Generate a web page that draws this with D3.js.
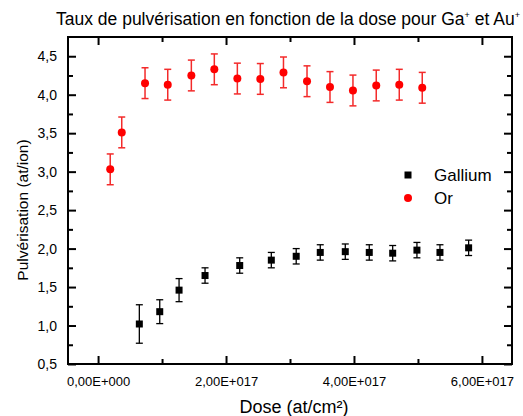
<!DOCTYPE html>
<html>
<head>
<meta charset="utf-8">
<script src="https://cdn.jsdelivr.net/npm/d3@7"></script>
<style>
  html, body { margin: 0; padding: 0; background: #fff; }
  svg { display: block; font-family: "Liberation Sans", Arial, sans-serif; }
</style>
</head>
<body>
<svg id="chart" width="523" height="416"></svg>
<script>
// Gallium (Ga+) sputtering yield vs dose
const galliumDose  = [0.645e17, 0.964e17, 1.266e17, 1.672e17, 2.214e17, 2.708e17, 3.097e17,
                      3.473e17, 3.864e17, 4.239e17, 4.605e17, 4.984e17, 5.344e17, 5.792e17];
const galliumYield = [1.02, 1.18, 1.46, 1.65, 1.78, 1.85, 1.90, 1.95, 1.96, 1.95, 1.94, 1.98, 1.95, 2.01];
const galliumErr   = [0.25, 0.155, 0.15, 0.10, 0.10, 0.10, 0.10, 0.10, 0.10, 0.10, 0.10, 0.10, 0.10, 0.10];

// Gold (Au+) sputtering yield vs dose
const orDose  = [0.19e17, 0.37e17, 0.734e17, 1.089e17, 1.458e17, 1.817e17, 2.177e17, 2.536e17,
                 2.898e17, 3.266e17, 3.625e17, 3.984e17, 4.348e17, 4.708e17, 5.067e17];
const orYield = [3.03, 3.51, 4.15, 4.13, 4.25, 4.33, 4.21, 4.205, 4.29, 4.175, 4.10, 4.055, 4.12, 4.13, 4.09];
const orErr   = [0.20, 0.20, 0.20, 0.20, 0.20, 0.20, 0.20, 0.20, 0.20, 0.20, 0.20, 0.20, 0.20, 0.20, 0.20];

// Axis ticks and labels
const xMajorTicks  = [0, 2e17, 4e17, 6e17];
const xMajorLabels = ["0,00E+000", "2,00E+017", "4,00E+017", "6,00E+017"];
const xMinorTicks  = [1e17, 3e17, 5e17];
const yMajorTicks  = [0.5, 1.0, 1.5, 2.0, 2.5, 3.0, 3.5, 4.0, 4.5];
const yMajorLabels = ["0,5", "1,0", "1,5", "2,0", "2,5", "3,0", "3,5", "4,0", "4,5"];
const yMinorTicks  = [0.75, 1.25, 1.75, 2.25, 2.75, 3.25, 3.75, 4.25];

const seriesNames = ["Gallium", "Or"];
const titleText = "Taux de pulvérisation en fonction de la dose pour Ga";

const W = 523, H = 416;
const margin = { top: 37, right: 11, bottom: 52, left: 68 };
const iw = W - margin.left - margin.right;
const ih = H - margin.top - margin.bottom;

const svg = d3.select("#chart");
const g = svg.append("g").attr("transform", `translate(${margin.left},${margin.top})`);

const x = d3.scaleLinear().domain([-0.47e17, 6.47e17]).range([0, iw]);
const y = d3.scaleLinear().domain([0.5, 4.75]).range([ih, 0]);

const MAJ = 8, MIN = 5;

// Inward ticks on all four sides
function drawAxis(axisGen, transform) {
  const a = g.append("g").attr("transform", transform).call(axisGen);
  a.select(".domain").remove();
  a.selectAll("line").attr("stroke", "#000").attr("stroke-width", 2);
  return a;
}
// bottom
const xb = drawAxis(d3.axisBottom(x).tickValues(xMajorTicks).tickSize(-MAJ)
  .tickFormat((d, i) => xMajorLabels[i]).tickPadding(13), `translate(0,${ih})`);
xb.selectAll("text").attr("font-size", 13).attr("fill", "#000")
  .attr("font-family", "Liberation Sans, Arial, sans-serif");
drawAxis(d3.axisBottom(x).tickValues(xMinorTicks).tickSize(-MIN).tickFormat(""), `translate(0,${ih})`);
// top
drawAxis(d3.axisTop(x).tickValues(xMajorTicks).tickSize(-MAJ).tickFormat(""), "translate(0,0)");
drawAxis(d3.axisTop(x).tickValues(xMinorTicks).tickSize(-MIN).tickFormat(""), "translate(0,0)");
// left
const yl = drawAxis(d3.axisLeft(y).tickValues(yMajorTicks).tickSize(-MAJ)
  .tickFormat((d, i) => yMajorLabels[i]).tickPadding(11), "translate(0,0)");
yl.selectAll("text").attr("font-size", 14).attr("fill", "#000")
  .attr("font-family", "Liberation Sans, Arial, sans-serif");
drawAxis(d3.axisLeft(y).tickValues(yMinorTicks).tickSize(-MIN).tickFormat(""), "translate(0,0)");
// right
drawAxis(d3.axisRight(y).tickValues(yMajorTicks).tickSize(-MAJ).tickFormat(""), `translate(${iw},0)`);
drawAxis(d3.axisRight(y).tickValues(yMinorTicks).tickSize(-MIN).tickFormat(""), `translate(${iw},0)`);

// frame
g.append("rect").attr("x", 0).attr("y", 0).attr("width", iw).attr("height", ih)
  .attr("fill", "none").attr("stroke", "#000").attr("stroke-width", 2);

// Error bars + markers
function errorBars(dose, val, err, color, width) {
  const eg = g.append("g").attr("stroke", color).attr("stroke-width", width).attr("fill", "none");
  dose.forEach((d, i) => {
    const cx = x(d), y0 = y(val[i] - err[i]), y1 = y(val[i] + err[i]);
    eg.append("line").attr("x1", cx).attr("x2", cx).attr("y1", y0).attr("y2", y1);
    eg.append("line").attr("x1", cx - 3.5).attr("x2", cx + 3.5).attr("y1", y0).attr("y2", y0);
    eg.append("line").attr("x1", cx - 3.5).attr("x2", cx + 3.5).attr("y1", y1).attr("y2", y1);
  });
}
errorBars(orDose, orYield, orErr, "#f32a2a", 1.5);
errorBars(galliumDose, galliumYield, galliumErr, "#000", 1.3);

g.append("g").selectAll("rect").data(galliumDose).join("rect")
  .attr("x", (d) => x(d) - 3.5)
  .attr("y", (d, i) => y(galliumYield[i]) - 3.5)
  .attr("width", 7).attr("height", 7).attr("fill", "#000");

g.append("g").selectAll("circle").data(orDose).join("circle")
  .attr("cx", (d) => x(d))
  .attr("cy", (d, i) => y(orYield[i]))
  .attr("r", 4).attr("fill", "#ff0000");

// Legend
const lg = svg.append("g").attr("transform", "translate(408,175)");
lg.append("rect").attr("x", -3.5).attr("y", -3.5).attr("width", 7).attr("height", 7).attr("fill", "#000");
lg.append("circle").attr("cx", 0).attr("cy", 23).attr("r", 4).attr("fill", "#ff0000");
lg.selectAll("text").data(seriesNames).join("text")
  .attr("x", 26).attr("y", (d, i) => i * 23 + 6)
  .attr("font-size", 17).attr("fill", "#000").text((d) => d);

// Title with superscripted charges
const title = svg.append("text").attr("x", 56).attr("y", 25).attr("font-size", 17.5).attr("fill", "#000");
title.append("tspan").text(titleText);
title.append("tspan").attr("font-size", 9).attr("dy", -7).text("+");
title.append("tspan").attr("dy", 7).text(" et Au");
title.append("tspan").attr("font-size", 9).attr("dy", -7).text("+");

// Axis titles
svg.append("text").attr("x", 294).attr("y", 413).attr("text-anchor", "middle")
  .attr("font-size", 18).attr("fill", "#000").text("Dose (at/cm²)");
svg.append("text").attr("transform", "translate(28,210) rotate(-90)").attr("text-anchor", "middle")
  .attr("font-size", 15.5).attr("fill", "#000").text("Pulvérisation (at/ion)");
</script>
</body>
</html>
